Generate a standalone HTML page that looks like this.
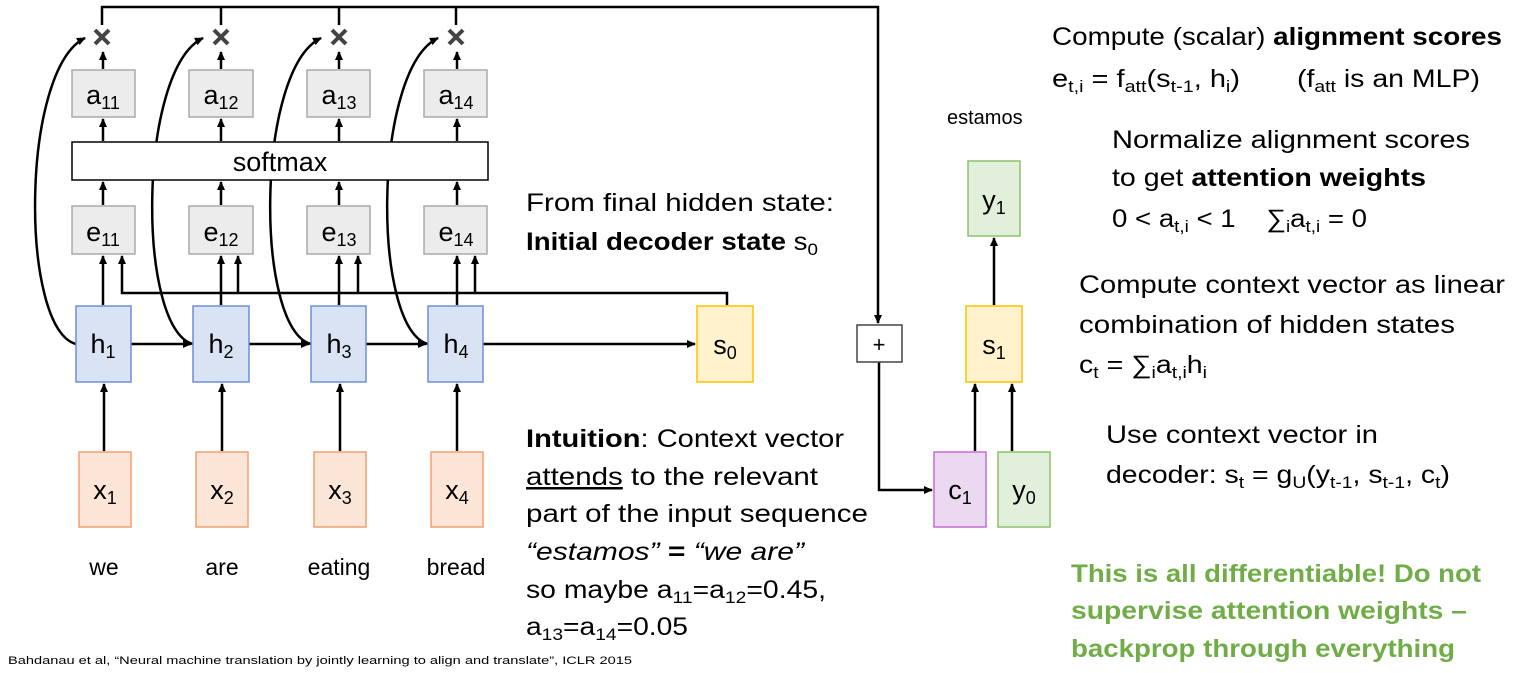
<!DOCTYPE html>
<html><head><meta charset="utf-8"><style>
html,body{margin:0;padding:0;background:#fff;}
svg{display:block;font-family:"Liberation Sans",sans-serif;}
</style></head><body>
<svg width="1518" height="673" viewBox="0 0 1518 673" xmlns="http://www.w3.org/2000/svg">
<defs>
<marker id="ar" markerWidth="10" markerHeight="10" refX="8" refY="5" orient="auto" markerUnits="userSpaceOnUse">
<path d="M0,1 L9,5 L0,9 z" fill="#000"/></marker>
</defs>
<g stroke="#000" stroke-width="2.5" fill="none">
<path d="M102,25 V7 H878 V323" marker-end="url(#ar)"/>
<path d="M221,25 V7"/><path d="M339,25 V7"/><path d="M456,25 V7"/>
<path d="M879,362 V490 H932" marker-end="url(#ar)"/>
</g>
<g stroke="#000" stroke-width="2.5" fill="none" marker-end="url(#ar)">
<path d="M103,69 V52"/><path d="M221,69 V52"/><path d="M339,69 V52"/><path d="M457,69 V52"/>
<path d="M103,141 V119"/><path d="M221,141 V119"/><path d="M339,141 V119"/><path d="M457,141 V119"/>
<path d="M103,205 V182"/><path d="M221,205 V182"/><path d="M339,205 V182"/><path d="M457,205 V182"/>
<path d="M103,305 V256"/><path d="M221,305 V256"/><path d="M339,305 V256"/><path d="M457,305 V256"/>
<path d="M727,305 V293 H122 V256"/>
<path d="M238,293 V256"/><path d="M358,293 V256"/><path d="M475,293 V256"/>
<path d="M104,451 V384"/><path d="M222,451 V384"/><path d="M340,451 V384"/><path d="M457,451 V384"/>
<path d="M131,344 H191"/><path d="M249,344 H309"/><path d="M366,344 H426"/><path d="M483,344 H695"/>
<path d="M76,344 C20,330 20,70 85,38"/>
<path d="M193,344 C137,330 137,70 203,38"/>
<path d="M311,344 C255,330 255,70 321,38"/>
<path d="M428,344 C372,330 372,70 438,38"/>
<path d="M975,451 V384"/><path d="M1012,451 V384"/>
<path d="M994,305 V238"/>
</g>
<g stroke="#444" stroke-width="4">
<path d="M95,30 L109,44 M109,30 L95,44"/>
<path d="M214,30 L228,44 M228,30 L214,44"/>
<path d="M332,30 L346,44 M346,30 L332,44"/>
<path d="M449,30 L463,44 M463,30 L449,44"/>
</g>
<g stroke="#aaa" stroke-width="1.5" fill="#ececec">
<rect x="72" y="70" width="63" height="47"/><rect x="189" y="70" width="64" height="47"/><rect x="307" y="70" width="63" height="47"/><rect x="424" y="70" width="63" height="47"/>
<rect x="72" y="206" width="63" height="48"/><rect x="189" y="206" width="64" height="48"/><rect x="307" y="206" width="63" height="48"/><rect x="424" y="206" width="63" height="48"/>
</g>
<rect x="72" y="142" width="416" height="38" fill="#fff" stroke="#000" stroke-width="1.5"/>
<g stroke="#6d8fd6" stroke-width="1.5" fill="#dae3f3">
<rect x="76" y="306" width="55" height="76"/><rect x="193" y="306" width="56" height="76"/><rect x="311" y="306" width="55" height="76"/><rect x="428" y="306" width="55" height="76"/>
</g>
<g stroke="#f0a070" stroke-width="1.5" fill="#fbe5d6">
<rect x="79" y="452" width="52" height="75"/><rect x="196" y="452" width="52" height="75"/><rect x="314" y="452" width="52" height="75"/><rect x="431" y="452" width="52" height="75"/>
</g>
<rect x="697" y="306" width="56" height="76" fill="#fff2cc" stroke="#ffc000" stroke-width="1.5"/>
<rect x="966" y="306" width="56" height="76" fill="#fff2cc" stroke="#ffc000" stroke-width="1.5"/>
<rect x="968" y="161" width="52" height="75" fill="#e2efda" stroke="#8cc26b" stroke-width="1.5"/>
<rect x="998" y="452" width="52" height="75" fill="#e2efda" stroke="#8cc26b" stroke-width="1.5"/>
<rect x="934" y="452" width="52" height="75" fill="#ead9f0" stroke="#c86cd6" stroke-width="1.5"/>
<rect x="857" y="325" width="45" height="37" fill="#fff" stroke="#444" stroke-width="1.5"/>
<text x="879" y="352" font-size="22" text-anchor="middle">+</text>
<g font-size="27" text-anchor="middle" fill="#000">
<text x="103" y="104">a<tspan font-size="18" dy="5">11</tspan></text>
<text x="221" y="104">a<tspan font-size="18" dy="5">12</tspan></text>
<text x="339" y="104">a<tspan font-size="18" dy="5">13</tspan></text>
<text x="456" y="104">a<tspan font-size="18" dy="5">14</tspan></text>
<text x="280" y="171">softmax</text>
<text x="103" y="241">e<tspan font-size="18" dy="5">11</tspan></text>
<text x="221" y="241">e<tspan font-size="18" dy="5">12</tspan></text>
<text x="339" y="241">e<tspan font-size="18" dy="5">13</tspan></text>
<text x="456" y="241">e<tspan font-size="18" dy="5">14</tspan></text>
<text x="103" y="353">h<tspan font-size="18" dy="5">1</tspan></text>
<text x="221" y="353">h<tspan font-size="18" dy="5">2</tspan></text>
<text x="339" y="353">h<tspan font-size="18" dy="5">3</tspan></text>
<text x="456" y="353">h<tspan font-size="18" dy="5">4</tspan></text>
<text x="105" y="499">x<tspan font-size="18" dy="5">1</tspan></text>
<text x="222" y="499">x<tspan font-size="18" dy="5">2</tspan></text>
<text x="340" y="499">x<tspan font-size="18" dy="5">3</tspan></text>
<text x="457" y="499">x<tspan font-size="18" dy="5">4</tspan></text>
<text x="725" y="354">s<tspan font-size="18" dy="5">0</tspan></text>
<text x="994" y="354">s<tspan font-size="18" dy="5">1</tspan></text>
<text x="994" y="209">y<tspan font-size="18" dy="5">1</tspan></text>
<text x="1024" y="499">y<tspan font-size="18" dy="5">0</tspan></text>
<text x="960" y="499">c<tspan font-size="18" dy="5">1</tspan></text>
</g>
<g font-size="23" text-anchor="middle">
<text x="104" y="575">we</text><text x="222" y="575">are</text><text x="339" y="575">eating</text><text x="456" y="575">bread</text>
</g>
<text x="947" y="124" font-size="20">estamos</text>
<g font-size="25">
<text x="526" y="211" textLength="308" lengthAdjust="spacingAndGlyphs">From final hidden state:</text>
<text x="526" y="250" textLength="292" lengthAdjust="spacingAndGlyphs"><tspan font-weight="bold">Initial decoder state</tspan> s<tspan font-size="17" dy="5">0</tspan></text>
<text x="526" y="447" textLength="318" lengthAdjust="spacingAndGlyphs"><tspan font-weight="bold">Intuition</tspan>: Context vector</text>
<text x="526" y="485" textLength="292" lengthAdjust="spacingAndGlyphs"><tspan text-decoration="underline">attends</tspan> to the relevant</text>
<text x="526" y="522" textLength="342" lengthAdjust="spacingAndGlyphs">part of the input sequence</text>
<text x="526" y="560" font-style="italic" textLength="278" lengthAdjust="spacingAndGlyphs">“estamos” <tspan font-weight="bold" font-style="normal">=</tspan> “we are”</text>
<text x="526" y="598" textLength="300" lengthAdjust="spacingAndGlyphs">so maybe a<tspan font-size="17" dy="5">11</tspan><tspan dy="-5">=a</tspan><tspan font-size="17" dy="5">12</tspan><tspan dy="-5">=0.45,</tspan></text>
<text x="526" y="635" textLength="162" lengthAdjust="spacingAndGlyphs">a<tspan font-size="17" dy="5">13</tspan><tspan dy="-5">=a</tspan><tspan font-size="17" dy="5">14</tspan><tspan dy="-5">=0.05</tspan></text>
</g>
<g font-size="25">
<text x="1052" y="45" textLength="450" lengthAdjust="spacingAndGlyphs">Compute (scalar) <tspan font-weight="bold">alignment scores</tspan></text>
<text x="1052" y="87" textLength="188" lengthAdjust="spacingAndGlyphs">e<tspan font-size="17" dy="5">t,i</tspan><tspan dy="-5"> = f</tspan><tspan font-size="17" dy="5">att</tspan><tspan dy="-5">(s</tspan><tspan font-size="17" dy="5">t-1</tspan><tspan dy="-5">, h</tspan><tspan font-size="17" dy="5">i</tspan><tspan dy="-5">)</tspan></text>
<text x="1297" y="87" textLength="183" lengthAdjust="spacingAndGlyphs">(f<tspan font-size="17" dy="5">att</tspan><tspan dy="-5"> is an MLP)</tspan></text>
<text x="1112" y="148" textLength="358" lengthAdjust="spacingAndGlyphs">Normalize alignment scores</text>
<text x="1112" y="186" textLength="314" lengthAdjust="spacingAndGlyphs">to get <tspan font-weight="bold">attention weights</tspan></text>
<text x="1112" y="227" textLength="255" lengthAdjust="spacingAndGlyphs" xml:space="preserve">0 &lt; a<tspan font-size="17" dy="5">t,i</tspan><tspan dy="-5"> &lt; 1    ∑</tspan><tspan font-size="17" dy="5">i</tspan><tspan dy="-5">a</tspan><tspan font-size="17" dy="5">t,i</tspan><tspan dy="-5"> = 0</tspan></text>
<text x="1079" y="293" textLength="426" lengthAdjust="spacingAndGlyphs">Compute context vector as linear</text>
<text x="1079" y="333" textLength="376" lengthAdjust="spacingAndGlyphs">combination of hidden states</text>
<text x="1079" y="373" textLength="128" lengthAdjust="spacingAndGlyphs">c<tspan font-size="17" dy="5">t</tspan><tspan dy="-5"> = ∑</tspan><tspan font-size="17" dy="5">i</tspan><tspan dy="-5">a</tspan><tspan font-size="17" dy="5">t,i</tspan><tspan dy="-5">h</tspan><tspan font-size="17" dy="5">i</tspan></text>
<text x="1106" y="443" textLength="272" lengthAdjust="spacingAndGlyphs">Use context vector in</text>
<text x="1106" y="483" textLength="344" lengthAdjust="spacingAndGlyphs">decoder: s<tspan font-size="17" dy="5">t</tspan><tspan dy="-5"> = g</tspan><tspan font-size="17" dy="5">U</tspan><tspan dy="-5">(y</tspan><tspan font-size="17" dy="5">t-1</tspan><tspan dy="-5">, s</tspan><tspan font-size="17" dy="5">t-1</tspan><tspan dy="-5">, c</tspan><tspan font-size="17" dy="5">t</tspan><tspan dy="-5">)</tspan></text>
</g>
<g font-size="25" font-weight="bold" fill="#70ad47">
<text x="1071" y="582" textLength="410" lengthAdjust="spacingAndGlyphs">This is all differentiable! Do not</text>
<text x="1071" y="619" textLength="396" lengthAdjust="spacingAndGlyphs">supervise attention weights –</text>
<text x="1071" y="657" textLength="384" lengthAdjust="spacingAndGlyphs">backprop through everything</text>
</g>
<text x="8" y="664" font-size="11" textLength="624" lengthAdjust="spacingAndGlyphs">Bahdanau et al, “Neural machine translation by jointly learning to align and translate”, ICLR 2015</text>
</svg>
</body></html>
